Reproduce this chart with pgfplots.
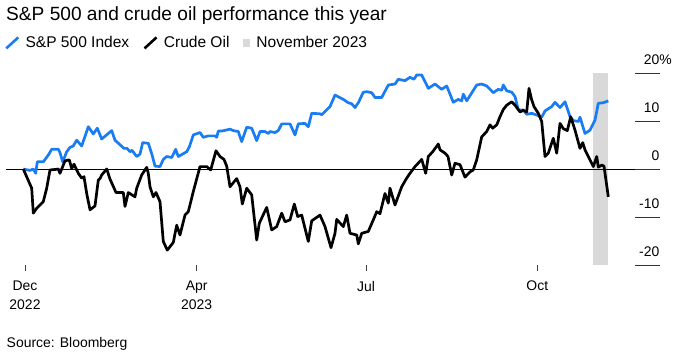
\documentclass[border=0pt]{standalone}
\usepackage{fontspec}
\setmainfont{Liberation Sans}
\usepackage{pgfplots}
\pgfplotsset{compat=1.18}
\definecolor{spblue}{RGB}{25,124,242}
\definecolor{bandgray}{RGB}{217,217,217}
\begin{document}
\begin{tikzpicture}
\begin{axis}[
  set layers,
  scale only axis,
  width=629bp, height=192bp,
  xmin=6, xmax=635, ymin=-20, ymax=20,
  clip=false,
  axis x line*=bottom, axis y line*=right,
  axis line style={draw=none},
  tick align=outside,
  major tick length=6bp,
  xtick={25,196.7,366,537.3},
  xticklabels={Dec\\2022,Apr\\2023,Jul,Oct},
  xtick style={black!75, line width=0.7bp},
  xticklabel style={font=\fontsize{14}{18.6}\selectfont, align=center, anchor=north, inner sep=0pt, yshift=-9.7bp},
  ytick={-20,-10,0,10,20},
  yticklabels={-20,-10,0,10,20\rlap{\%}},
  ytick style={black!80, line width=0.8bp, /pgfplots/major tick length=25bp},
  yticklabel style={font=\fontsize{14}{16}\selectfont, anchor=base east, inner sep=0pt, xshift=18.5bp, yshift=8.5bp},
  legend columns=3,
  legend style={draw=none, fill=none, inner sep=0pt, outer sep=0pt,
    font=\fontsize{15.6}{18}\selectfont,
    at={(axis cs:5,28.0)}, anchor=north west,
    cells={anchor=base west},
    /tikz/every odd column/.append style={column sep=4bp},
    /tikz/every even column/.append style={column sep=12bp}},
]
\addplot[spblue, line width=2.7bp, line join=round,
  legend image code/.code={\draw[spblue, line width=2.6bp] (0bp,-0.5bp) -- (12bp,10.5bp);}]
coordinates {
(23.3,0) (30,-0.3) (33.3,0) (35.7,-0.9) (37.3,1.5) (43.3,1.5) (48.3,2.9) (51.7,4.1)
(58.3,4.1) (60,3.4) (62.7,1.5) (66.7,3.6) (70,4.5) (73.3,4.8) (76.7,6.0) (81.7,4.8)
(88.3,8.8) (93.3,7.3) (97.3,8.5) (101.7,6.25) (111.7,8.0) (115,6.0) (124,4.3) (127,4.3)
(130,3.6) (132,3.9) (136.7,2.6) (140,3.1) (142.7,5.5) (148.3,5.35) (151.7,3.2) (155,0.6)
(160,0.5) (163.3,2.0) (166.7,2.6) (171.7,2.4) (175.7,4.1) (178.3,2.6) (186.7,3.6) (189.3,4.6)
(193.3,7.1) (200,7.6) (203.3,6.6) (208.3,6.9) (215,6.9) (216.7,6.6) (218.3,7.9) (221.7,7.9)
(230,8.3) (233.3,8.0) (238.3,7.8) (241.7,5.7) (246.7,8.7) (251.7,8.5) (256.7,5.9) (260,7.8)
(265,7.8) (268.3,7.4) (270,7.8) (275,7.6) (278.3,8.0) (281.7,9.4) (290,9.4) (295,7.1)
(298.3,9.4) (305,9.5) (308.3,8.8) (311.7,11.6) (320,11.5) (321.7,11.3) (330,13.0) (335,15.4)
(343.3,14.5) (348.3,13.8) (351.7,13.6) (355,12.8) (358.3,13.8) (363.3,16.0) (366.7,16.1) (371.7,15.9)
(375,14.9) (381.7,14.9) (388.3,17.5) (395,17.7) (398.3,18.7) (405,18.4) (410,19.1) (414,18.7)
(416.7,19.6) (421.7,19.6) (428.3,16.8) (435,17.7) (441.7,16.6) (446.7,17.3) (453.3,13.9) (458.3,14.5)
(461.7,14.2) (463.3,15.6) (466.7,14.2) (476.7,17.5) (481.7,17.7) (486.7,17.3) (493.3,15.9) (498.3,16.6)
(501.7,16.4) (503.3,17.5) (506.7,16.3) (511.7,16.0) (515,15.1) (518.3,12.3) (523.3,12.3) (526.7,11.4)
(531.7,11.6) (536.7,11.25) (541.7,10.8) (545,12.1) (551.7,13.0) (555,13.9) (560,12.8) (565,14.0)
(570,10.9) (573.3,10.1) (578.3,9.9) (580,10.8) (585,7.4) (590,8.1) (595,10.2) (598.3,13.7)
(603.3,13.8) (608.3,14.2)
};
\addlegendentry{S\&P 500 Index}
\addplot[black, line width=2.7bp, line join=round,
  legend image code/.code={\draw[black, line width=2.6bp] (0bp,-0.5bp) -- (12bp,10.5bp);}]
coordinates {
(23.3,0) (31.7,-4.0) (33.3,-9.2) (36.7,-8.2) (43.3,-6.8) (46.7,-4.0) (50,-0.2) (55,-0.1)
(58.3,0) (60,-0.9) (65,1.7) (69.3,1.9) (71.7,0.1) (74,1.0) (78.3,-0.9) (81.7,-1.9)
(84,-1.6) (86.7,-5.1) (90,-8.5) (95,-7.7) (98.3,-2.3) (100,-2.0) (101.7,-1.25) (106.7,0)
(110,-2.1) (116,-4.9) (123.3,-4.9) (125,-7.8) (128.3,-4.9) (135,-5.8) (136.7,-4.0) (141.7,-1.25)
(146.7,0.35) (148.3,-0.9) (150,-3.7) (153.3,-5.8) (156,-4.9) (160,-6.8) (163.3,-15.1) (167.3,-16.9)
(173.3,-15.3) (176.7,-11.7) (180,-13.75) (185,-9.6) (188.3,-8.9) (193.3,-4.7) (200,0.5) (206.7,0.5)
(210.7,-0.2) (216,3.8) (220,2.6) (224,2.0) (226.7,0.6) (230,-3.7) (236.7,-2.0) (240,-3.7)
(242.3,-7.3) (246.7,-4.0) (251.7,-5.4) (256.7,-14.8) (259.3,-11.3) (266.7,-8.0) (271.7,-12.7) (276.7,-12.0)
(281.7,-9.2) (285,-11.0) (290,-10.6) (294.3,-7.3) (297.7,-9.9) (301.7,-9.6) (308.3,-15.1) (311.7,-10.8)
(320,-9.6) (325,-12.0) (331,-16.4) (335,-13.4) (336.7,-10.5) (343.3,-12.0) (346.7,-9.6) (350,-13.4)
(356.7,-13.75) (358.3,-15.6) (361.7,-13.4) (368.3,-13.0) (373.3,-10.6) (376.7,-8.9) (380,-9.3) (385,-5.1)
(388.3,-7.1) (390,-4.0) (395,-7.5) (401.7,-3.7) (406.7,-1.9) (410,-0.9) (415,0.5) (421.7,2.0)
(425.7,-0.9) (428.3,2.6) (432.7,3.6) (438.3,5.2) (440,4.0) (445,3.3) (448,2.6) (451.7,-1.25)
(455,1.2) (460,0.9) (465,-1.7) (470,-0.6) (473.3,-0.2) (476.7,1.9) (481.7,6.7) (486.7,7.8)
(490,9.2) (492.7,8.5) (496.7,9.2) (500,10.9) (503.3,12.4) (506.7,13.3) (511.7,14.0) (515,13.3)
(520,11.9) (523.3,12.2) (526.7,11.9) (529,16.8) (531.7,14.4) (534,13.0) (538.3,11.6) (541.7,9.9)
(545,2.6) (548.3,3.3) (553.3,6.4) (556.7,3.3) (560,9.5) (563.3,8.4) (567.3,8.0) (570.7,10.9)
(575,8.1) (580,4.3) (582.7,5.5) (585,4.0) (593.3,0.5) (596.7,2.6) (598.3,0.4) (601.7,0.8)
(604,0.6) (608.3,-5.8)
};
\addlegendentry{Crude Oil}
\addplot[draw=none, fill=bandgray, area legend, on layer=axis background,
  legend image code/.code={\fill[bandgray] (2.5bp,1bp) rectangle (9.5bp,9bp);}]
coordinates {(593,-20) (593,20) (608,20) (608,-20)} -- cycle;
\addlegendentry{November 2023}
\addplot[forget plot, black, line width=0.7bp, on layer=axis grid] coordinates {(6,0) (635,0)};
\node[anchor=base west, inner sep=0pt, font=\fontsize{19.2}{22}\selectfont] at (axis cs:6,30.9) {S\&P 500 and crude oil performance this year};
\node[anchor=base west, inner sep=0pt, font=\fontsize{14}{16}\selectfont] at (axis cs:6.5,-37.19) {Source: Bloomberg};
\coordinate (bbA) at (axis cs:0,35.2083);
\coordinate (bbB) at (axis cs:675,-39.375);
\end{axis}
\pgfresetboundingbox
\useasboundingbox (bbA) rectangle (bbB);
\end{tikzpicture}
\end{document}
